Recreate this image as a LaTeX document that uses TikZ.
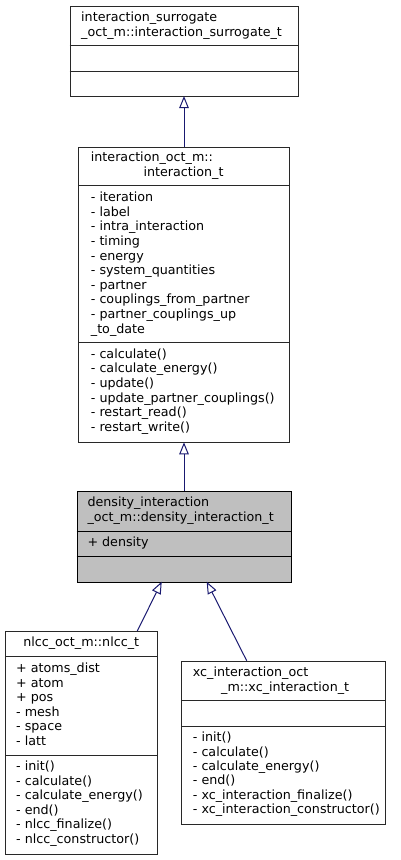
\documentclass[tikz,border=0pt]{standalone}
\usepackage{fontspec}
\setmainfont{DejaVu Sans}
\usetikzlibrary{arrows.meta}
\definecolor{edgeblue}{RGB}{25,25,112}
\definecolor{boxline}{RGB}{40,40,40}
\definecolor{focusfill}{RGB}{191,191,191}
\tikzset{
  classbox/.style={draw=boxline, line width=1pt, fill=white, inner sep=0pt, anchor=north west},
  divider/.style={draw=boxline, line width=1pt},
  txt/.style={anchor=base west, inner sep=0pt, font=\fontsize{12.7}{14.6}\selectfont},
  ctxt/.style={anchor=base, inner sep=0pt, font=\fontsize{12.7}{14.6}\selectfont},
  inherit/.style={draw=edgeblue, line width=1pt, {Triangle[length=12pt,width=9.5pt,fill=white]}-},
}
\begin{document}
\begin{tikzpicture}[x=1pt,y=-1pt]
\useasboundingbox (0,0) rectangle (400,860);
% ---------- A: interaction_surrogate ----------
\node[classbox, minimum width=228.2pt, minimum height=90.3pt] (A) at (69.5,5.7) {};
\draw[divider] (69.5,45.7) -- (297.7,45.7);
\draw[divider] (69.5,71) -- (297.7,71);
\node[txt] (A-t1) at (81,21.7) {interaction\_surrogate};
\node[txt] (A-t2) at (81,36.7) {\_oct\_m::interaction\_surrogate\_t};
% ---------- B: interaction_t ----------
\node[classbox, minimum width=210.7pt, minimum height=295.8pt] (B) at (78.3,146.5) {};
\draw[divider] (78.3,185.7) -- (289,185.7);
\draw[divider] (78.3,342.7) -- (289,342.7);
\node[txt] (B-t1) at (90.7,161.7) {interaction\_oct\_m::};
\node[txt] (B-t2) at (143.3,176.7) {interaction\_t};
\foreach \s [count=\i from 0] in {- iteration,- label,- intra\_interaction,- timing,- energy,- system\_quantities,- partner,- couplings\_from\_partner,- partner\_couplings\_up,\_to\_date}
  \node[txt] (B-a\i) at (90.7,201.7+\i*14.6) {\s};
\foreach \s [count=\i from 0] in {- calculate(),- calculate\_energy(),- update(),- update\_partner\_couplings(),- restart\_read(),- restart\_write()}
  \node[txt] (B-m\i) at (90.7,358.3+\i*14.6) {\s};
% ---------- C: density_interaction_t ----------
\node[classbox, fill=focusfill, draw=black, minimum width=214.3pt, minimum height=90.7pt] (C) at (76.7,491) {};
\draw[divider, draw=black] (76.7,531.7) -- (291,531.7);
\draw[divider, draw=black] (76.7,556.7) -- (291,556.7);
\node[txt] (C-t1) at (87.3,506.7) {density\_interaction};
\node[txt] (C-t2) at (87.3,521.7) {\_oct\_m::density\_interaction\_t};
\node[txt] (C-a0) at (87.3,546.7) {+ density};
% ---------- D: nlcc_t ----------
\node[classbox, minimum width=152.3pt, minimum height=223.3pt] (D) at (5,631) {};
\draw[divider] (5,656) -- (157.3,656);
\draw[divider] (5,755) -- (157.3,755);
\node[ctxt] (D-t1) at (81.2,646.7) {nlcc\_oct\_m::nlcc\_t};
\foreach \s [count=\i from 0] in {+ atoms\_dist,+ atom,+ pos,- mesh,- space,- latt}
  \node[txt] (D-a\i) at (16,672.7+\i*14.5) {\s};
\foreach \s [count=\i from 0] in {- init(),- calculate(),- calculate\_energy(),- end(),- nlcc\_finalize(),- nlcc\_constructor()}
  \node[txt] (D-m\i) at (16,770.7+\i*14.5) {\s};
% ---------- E: xc_interaction_t ----------
\node[classbox, minimum width=204pt, minimum height=163.3pt] (E) at (181,660.7) {};
\draw[divider] (181,700) -- (385,700);
\draw[divider] (181,726) -- (385,726);
\node[txt] (E-t1) at (192.7,676.7) {xc\_interaction\_oct};
\node[txt] (E-t2) at (221,691.7) {\_m::xc\_interaction\_t};
\foreach \s [count=\i from 0] in {- init(),- calculate(),- calculate\_energy(),- end(),- xc\_interaction\_finalize(),- xc\_interaction\_constructor()}
  \node[txt] (E-m\i) at (192.7,741.7+\i*14.4) {\s};
% ---------- connectors ----------
\coordinate (AB) at (184,96);
\coordinate (BA) at (184,146.5);
\coordinate (BC) at (184,442.3);
\coordinate (CB) at (184,491);
\coordinate (CD) at (161.7,581.7);
\coordinate (DC) at (137.3,631);
\coordinate (CE) at (206.7,581.7);
\coordinate (EC) at (246.7,660.7);
\draw[inherit] (AB) -- (BA);
\draw[inherit] (BC) -- (CB);
\draw[inherit] (CD) -- (DC);
\draw[inherit] (CE) -- (EC);
\end{tikzpicture}
\end{document}
